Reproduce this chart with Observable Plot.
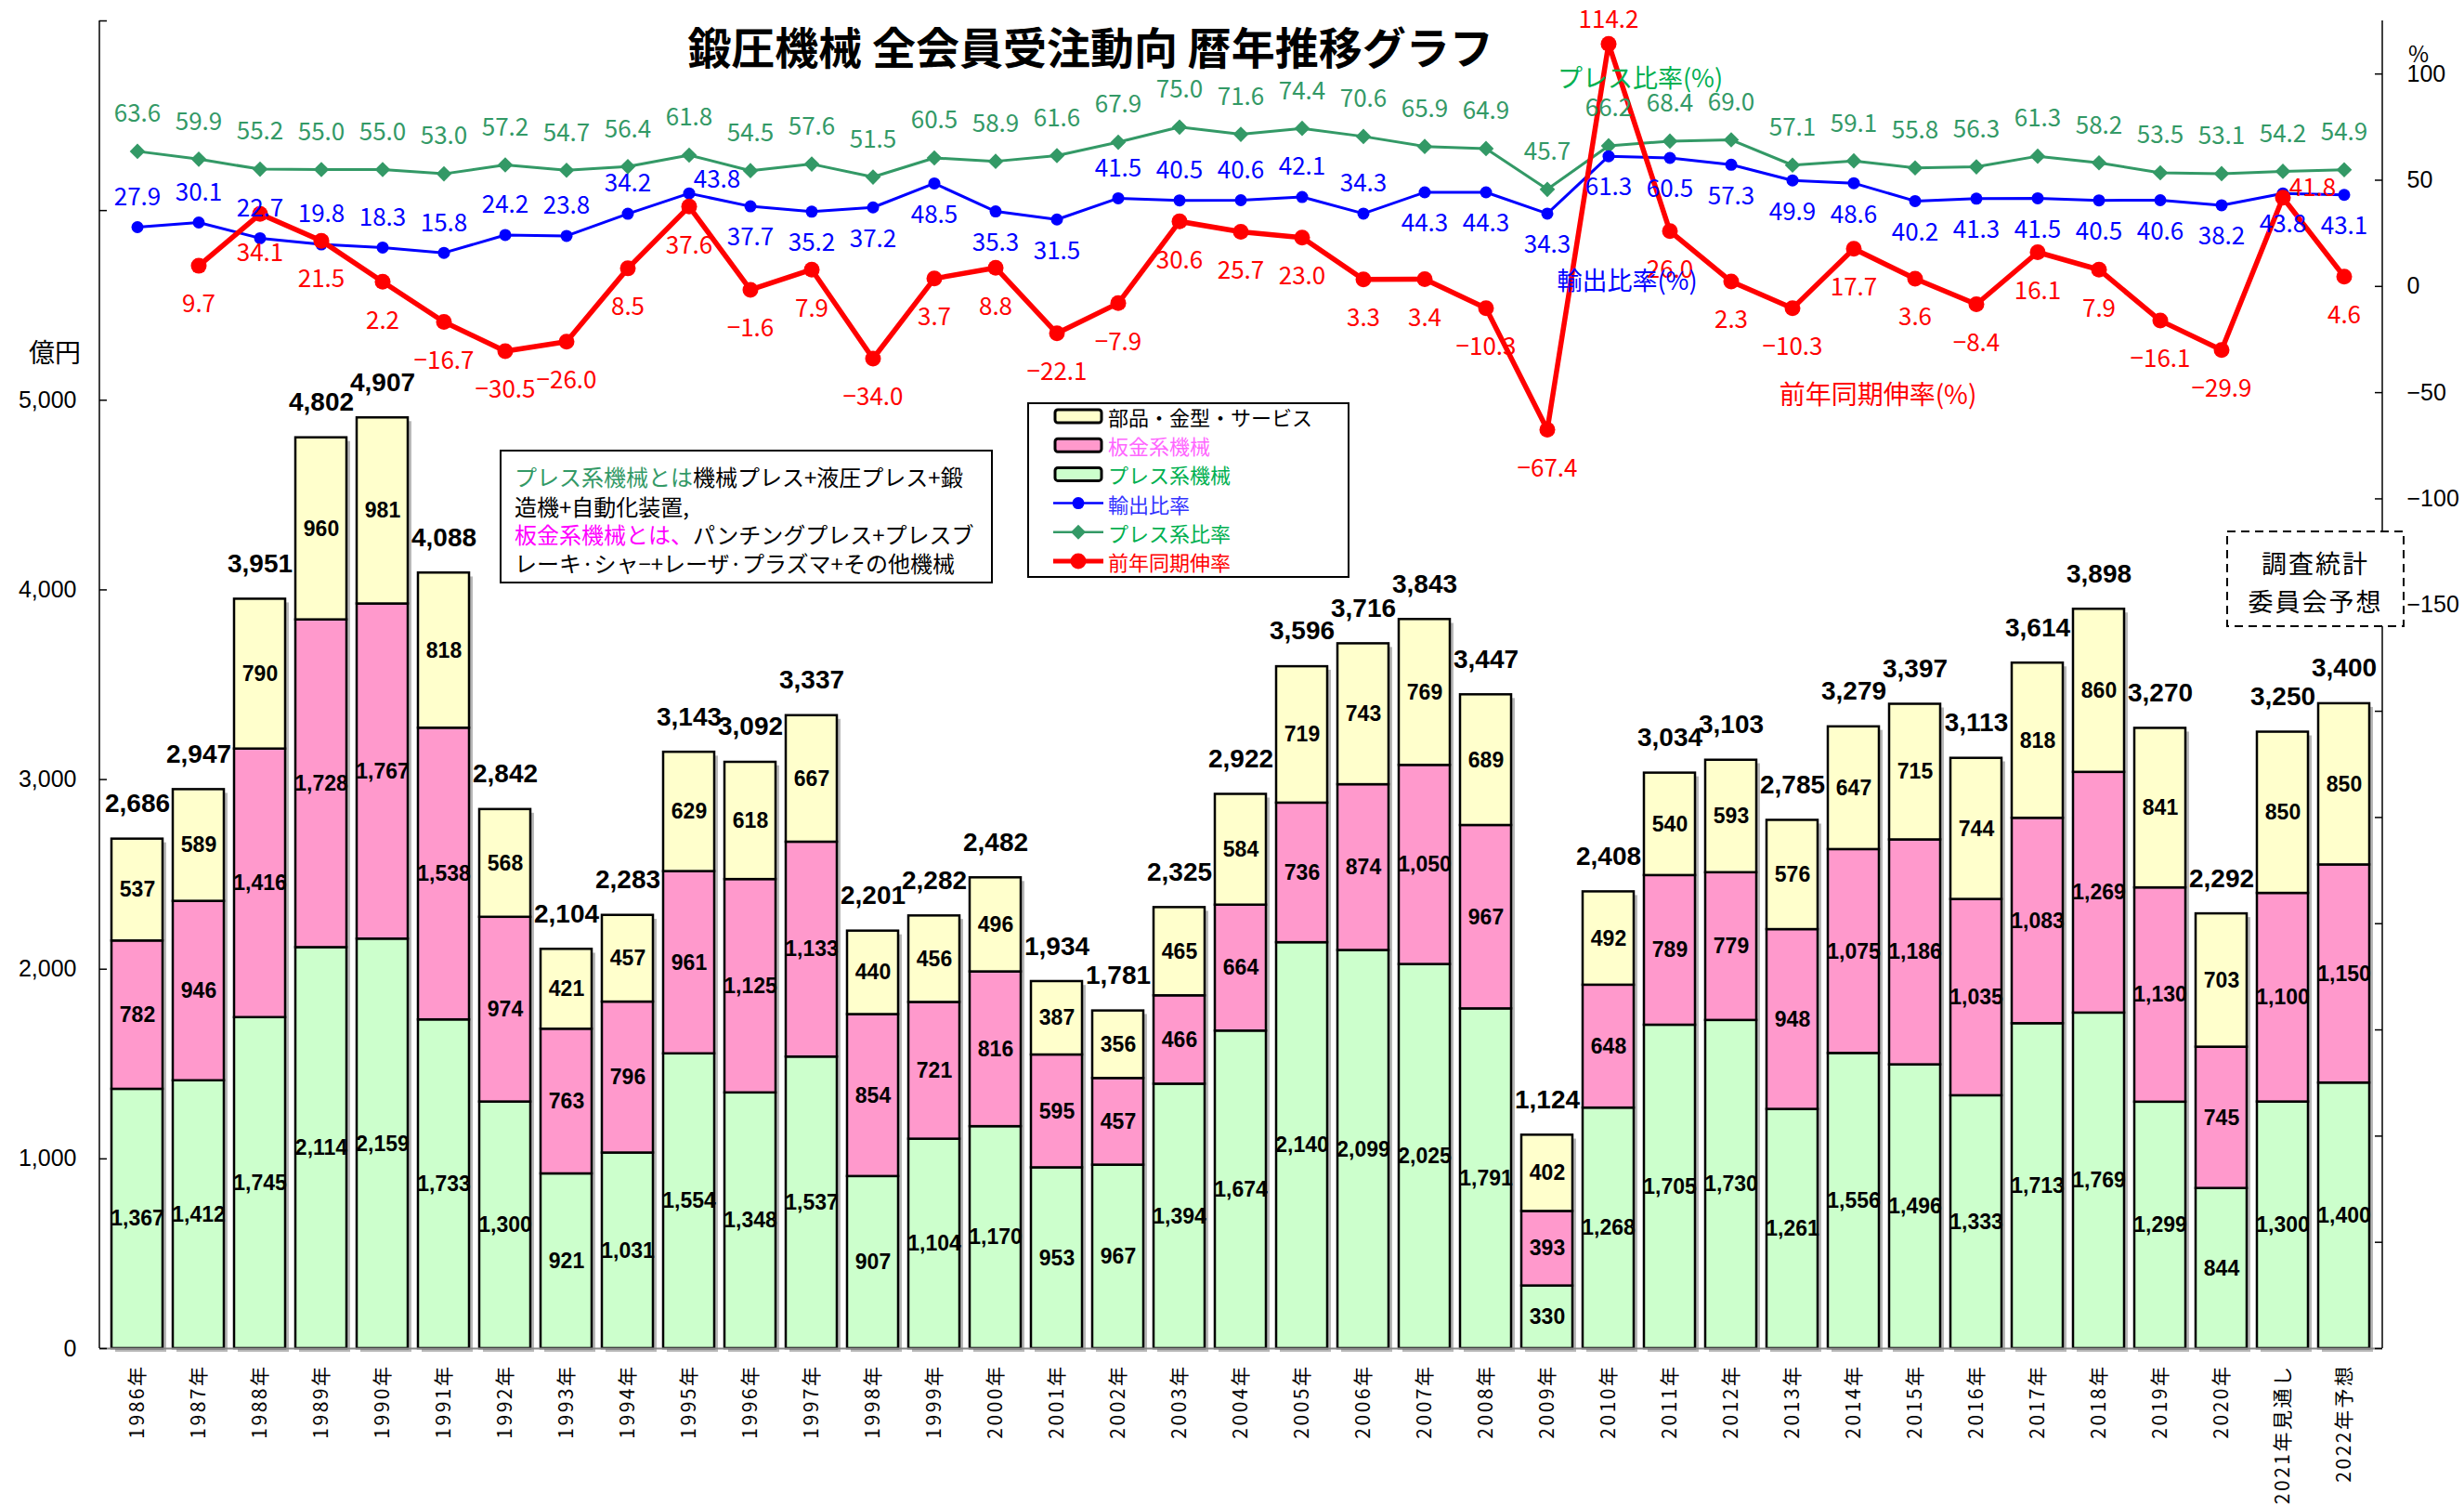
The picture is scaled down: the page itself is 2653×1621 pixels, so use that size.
<!DOCTYPE html>
<html><head><meta charset="utf-8">
<script src="https://cdn.jsdelivr.net/npm/d3@7"></script>
<script src="https://cdn.jsdelivr.net/npm/@observablehq/plot@0.6"></script>
<style>
body{margin:0;background:#fff}
#chart svg{display:block}
g[aria-label="x-axis tick label"] text{letter-spacing:2.5px}
</style></head><body><div id="chart"></div>
<script>
// ---------- data ----------
const years = ["1986年","1987年","1988年","1989年","1990年","1991年","1992年","1993年","1994年","1995年",
  "1996年","1997年","1998年","1999年","2000年","2001年","2002年","2003年","2004年","2005年",
  "2006年","2007年","2008年","2009年","2010年","2011年","2012年","2013年","2014年","2015年",
  "2016年","2017年","2018年","2019年","2020年","2021年見通し","2022年予想"];
const cats = ["プレス系機械","板金系機械","部品・金型・サービス"];
const press = [1367,1412,1745,2114,2159,1733,1300,921,1031,1554,1348,1537,907,1104,1170,953,967,1394,1674,2140,
  2099,2025,1791,330,1268,1705,1730,1261,1556,1496,1333,1713,1769,1299,844,1300,1400];
const sheet = [782,946,1416,1728,1767,1538,974,763,796,961,1125,1133,854,721,816,595,457,466,664,736,
  874,1050,967,393,648,789,779,948,1075,1186,1035,1083,1269,1130,745,1100,1150];
const parts = [537,589,790,960,981,818,568,421,457,629,618,667,440,456,496,387,356,465,584,719,
  743,769,689,402,492,540,593,576,647,715,744,818,860,841,703,850,850];
const totals = [2686,2947,3951,4802,4907,4088,2842,2104,2283,3143,3092,3337,2201,2282,2482,1934,1781,2325,2922,3596,
  3716,3843,3447,1124,2408,3034,3103,2785,3279,3397,3113,3614,3898,3270,2292,3250,3400];
const exportRatio = [27.9,30.1,22.7,19.8,18.3,15.8,24.2,23.8,34.2,43.8,37.7,35.2,37.2,48.5,35.3,31.5,41.5,40.5,40.6,42.1,
  34.3,44.3,44.3,34.3,61.3,60.5,57.3,49.9,48.6,40.2,41.3,41.5,40.5,40.6,38.2,43.8,43.1];
const pressRatio = [63.6,59.9,55.2,55.0,55.0,53.0,57.2,54.7,56.4,61.8,54.5,57.6,51.5,60.5,58.9,61.6,67.9,75.0,71.6,74.4,
  70.6,65.9,64.9,45.7,66.2,68.4,69.0,57.1,59.1,55.8,56.3,61.3,58.2,53.5,53.1,54.2,54.9];
const growth = [null,9.7,34.1,21.5,2.2,-16.7,-30.5,-26.0,8.5,37.6,-1.6,7.9,-34.0,3.7,8.8,-22.1,-7.9,30.6,25.7,23.0,
  3.3,3.4,-10.3,-67.4,114.2,26.0,2.3,-10.3,17.7,3.6,-8.4,16.1,7.9,-16.1,-29.9,41.8,4.6];
const leftTicks = [0,1000,2000,3000,4000,5000];
const rightTicks = [100,50,0,-50,-100,-150];

// ---------- styling / placement config ----------
const barColors = ["#CCFFCC","#FF99CC","#FFFFCC"];
const cGreen = "#339966", cBlue = "#0000FF", cRed = "#FF0000";
const blueBelow = new Set(["1996年","1997年","1998年","1999年","2000年","2001年","2007年","2008年","2009年","2010年",
  "2011年","2012年","2013年","2014年","2015年","2016年","2017年","2018年","2019年","2020年","2021年見通し","2022年予想"]);
const JP = "'Noto Sans CJK JP','Noto Sans',sans-serif";
const LS = "'Liberation Sans',Arial,sans-serif";

// right (%) axis mapped onto the left (億円) axis: % domain [-500,125] <-> [0,7000]
const T = p => (p + 500) * 11.2;
const fmtN = d3.format(",");
const fmtP = v => (v < 0 ? "−" : "") + Math.abs(v).toFixed(1);

const stackRows = years.flatMap((yr, i) => [
  {year: yr, cat: cats[0], value: press[i]},
  {year: yr, cat: cats[1], value: sheet[i]},
  {year: yr, cat: cats[2], value: parts[i]}
]);
const pts = years.map((yr, i) => ({year: yr, exp: exportRatio[i], prs: pressRatio[i], gr: growth[i], tot: totals[i]}));
const gpts = pts.filter(d => d.gr != null);
const redSpecial = {"2010年": [0, -26], "2021年見通し": [32, -10]};
const blueSpecial = {"1995年": [30, -14]};

const chart = Plot.plot({
  width: 2653, height: 1621,
  marginLeft: 107, marginRight: 88, marginTop: 22, marginBottom: 170,
  x: {domain: years, paddingInner: 0.16, paddingOuter: 0.08},
  y: {domain: [0, 7000]},
  color: {domain: cats, range: barColors},
  style: {fontFamily: JP, background: "#fff", overflow: "visible"},
  marks: [
    // bar shadows
    Plot.barY(pts, {x: "year", y: "tot", fill: "#b8b8b8", dx: 4, dy: 4}),
    Plot.barY(stackRows, {x: "year", y: "value", fill: "cat", stroke: "#000", strokeWidth: 2.5}),
    Plot.ruleY([0], {stroke: "#888", strokeWidth: 2}),
    Plot.text(stackRows, Plot.stackY({x: "year", y: "value", text: d => fmtN(d.value),
      fontSize: 23, fontWeight: "bold", fontFamily: LS, fill: "#000"})),
    Plot.text(pts, {x: "year", y: "tot", text: d => fmtN(d.tot), dy: -38,
      fontSize: 28, fontWeight: "bold", fontFamily: LS, fill: "#000"}),
    // axes
    Plot.axisY({anchor: "left", ticks: leftTicks, tickFormat: fmtN, tickSize: 0, tickPadding: 25,
      fontSize: 25, fontFamily: LS, label: null}),
    Plot.axisY({anchor: "right", ticks: rightTicks.map(T), tickFormat: v => { const p = Math.round(v / 11.2 - 500); return (p < 0 ? "−" : "") + Math.abs(p); },
      tickSize: 0, tickPadding: 26, fontSize: 25, fontFamily: LS, label: null}),
    Plot.ruleY(d3.range(0, 7001, 1000), {insetRight: 2450, stroke: "#000", strokeWidth: 1.5}),
    Plot.ruleY(d3.range(-500, 101, 50).map(T), {insetLeft: 2450, stroke: "#000", strokeWidth: 1.5}),
    Plot.axisX({tickRotate: -90, tickSize: 0, tickPadding: 17, fontSize: 21, fontFamily: JP, label: null}),
    // press ratio
    Plot.line(pts, {x: "year", y: d => T(d.prs), stroke: cGreen, strokeWidth: 3}),
    Plot.dot(pts, {x: "year", y: d => T(d.prs), symbol: "diamond2", r: 7.5, fill: cGreen, stroke: "none"}),
    // export ratio
    Plot.line(pts, {x: "year", y: d => T(d.exp), stroke: cBlue, strokeWidth: 3}),
    Plot.dot(pts, {x: "year", y: d => T(d.exp), r: 6.5, fill: cBlue, stroke: "none"}),
    // growth
    Plot.line(gpts, {x: "year", y: d => T(d.gr), stroke: cRed, strokeWidth: 5.5}),
    Plot.dot(gpts, {x: "year", y: d => T(d.gr), r: 8.5, fill: cRed, stroke: "none"}),
    // value labels
    Plot.text(pts, {x: "year", y: d => T(d.prs), text: d => fmtP(d.prs), dy: -40, fill: cGreen, fontSize: 26}),
    Plot.text(pts.filter(d => !blueBelow.has(d.year) && !blueSpecial[d.year]), {x: "year", y: d => T(d.exp), text: d => fmtP(d.exp), dy: -32, fill: cBlue, fontSize: 26}),
    Plot.text(pts.filter(d => blueBelow.has(d.year)), {x: "year", y: d => T(d.exp), text: d => fmtP(d.exp), dy: 34, fill: cBlue, fontSize: 26}),
    ...Object.entries(blueSpecial).map(([yr, [dx, dy]]) =>
      Plot.text(pts.filter(d => d.year === yr), {x: "year", y: d => T(d.exp), text: d => fmtP(d.exp), dx, dy, fill: cBlue, fontSize: 26})),
    Plot.text(gpts.filter(d => !redSpecial[d.year]), {x: "year", y: d => T(d.gr), text: d => fmtP(d.gr), dy: 42, fill: cRed, fontSize: 26}),
    ...Object.entries(redSpecial).map(([yr, [dx, dy]]) =>
      Plot.text(gpts.filter(d => d.year === yr), {x: "year", y: d => T(d.gr), text: d => fmtP(d.gr), dx, dy, fill: cRed, fontSize: 26}))
  ]
});
document.getElementById("chart").appendChild(chart);

// ---------- overlays: axis lines, title, legend, notes ----------
const svg = d3.select(chart);
const [xl, xr] = chart.scale("x").range;
const [yb, yt] = chart.scale("y").range;
const g = svg.append("g").attr("font-family", JP).attr("text-anchor", "start");
g.append("line").attr("x1", xl).attr("x2", xl).attr("y1", yt).attr("y2", yb).attr("stroke", "#000").attr("stroke-width", 1.5);
g.append("line").attr("x1", xr).attr("x2", xr).attr("y1", yt).attr("y2", yb).attr("stroke", "#000").attr("stroke-width", 1.5);

function txt(x, y, s, size, fill, anchor = "middle", weight = "normal") {
  return g.append("text").attr("x", x).attr("y", y).attr("font-size", size).attr("fill", fill)
    .attr("text-anchor", anchor).attr("dominant-baseline", "central").attr("font-weight", weight).text(s);
}
txt(1174, 48, "鍛圧機械 全会員受注動向 暦年推移グラフ", 47, "#000", "middle", "bold");
txt(59, 378, "億円", 28, "#000");
txt(2604, 56, "%", 24, "#000");
txt(1766, 82, "プレス比率(%)", 27, "#00B050");
txt(1752, 300, "輸出比率(%)", 27, cBlue);
txt(2022, 423, "前年同期伸率(%)", 28, cRed);

// note box
g.append("rect").attr("x", 539).attr("y", 485).attr("width", 529).attr("height", 142)
  .attr("fill", "#fff").attr("stroke", "#000").attr("stroke-width", 2);
const noteLines = [
  [["プレス系機械とは", "#339966"], ["機械プレス+液圧プレス+鍛", "#000"]],
  [["造機+自動化装置,", "#000"]],
  [["板金系機械とは、", "#FF00FF"], ["パンチングプレス+プレスブ", "#000"]],
  [["レーキ·シャ−+レーザ·プラズマ+その他機械", "#000"]]
];
[512, 544, 574, 605].forEach((y, k) => {
  const t = g.append("text").attr("x", 554).attr("y", y).attr("font-size", 24)
    .attr("text-anchor", "start").attr("dominant-baseline", "central");
  noteLines[k].forEach(([s, c]) => t.append("tspan").attr("fill", c).text(s));
});

// legend
g.append("rect").attr("x", 1107).attr("y", 434).attr("width", 345).attr("height", 187)
  .attr("fill", "#fff").attr("stroke", "#000").attr("stroke-width", 2);
const legendItems = [
  {label: "部品・金型・サービス", color: "#000", kind: "bar", fill: barColors[2]},
  {label: "板金系機械", color: "#FF66FF", kind: "bar", fill: barColors[1]},
  {label: "プレス系機械", color: "#00B050", kind: "bar", fill: barColors[0]},
  {label: "輸出比率", color: "#3333FF", kind: "line", stroke: cBlue, sw: 2.5, sym: "circle", r: 6.5},
  {label: "プレス系比率", color: "#00B050", kind: "line", stroke: cGreen, sw: 2.5, sym: "diamond", r: 8},
  {label: "前年同期伸率", color: cRed, kind: "line", stroke: cRed, sw: 5, sym: "circle", r: 8.5}
];
legendItems.forEach((it, k) => {
  const y = 448 + k * 31.2;
  if (it.kind === "bar") {
    g.append("rect").attr("x", 1136).attr("y", y - 7).attr("width", 50).attr("height", 14).attr("rx", 3)
      .attr("fill", it.fill).attr("stroke", "#000").attr("stroke-width", 3);
  } else {
    g.append("line").attr("x1", 1134).attr("x2", 1188).attr("y1", y).attr("y2", y).attr("stroke", it.stroke).attr("stroke-width", it.sw);
    if (it.sym === "circle") g.append("circle").attr("cx", 1161).attr("cy", y).attr("r", it.r).attr("fill", it.stroke);
    else g.append("path").attr("d", `M1161,${y - it.r}L${1161 + it.r},${y}L1161,${y + it.r}L${1161 - it.r},${y}Z`).attr("fill", it.stroke);
  }
  txt(1193, y, it.label, 22, it.color, "start");
});

// forecast box
g.append("rect").attr("x", 2398).attr("y", 572).attr("width", 190).attr("height", 102)
  .attr("fill", "#fff").attr("stroke", "#000").attr("stroke-width", 2).attr("stroke-dasharray", "9,6");
txt(2493, 605, "調査統計", 27, "#000").attr("letter-spacing", 2);
txt(2493, 646, "委員会予想", 27, "#000").attr("letter-spacing", 2);
</script></body></html>
